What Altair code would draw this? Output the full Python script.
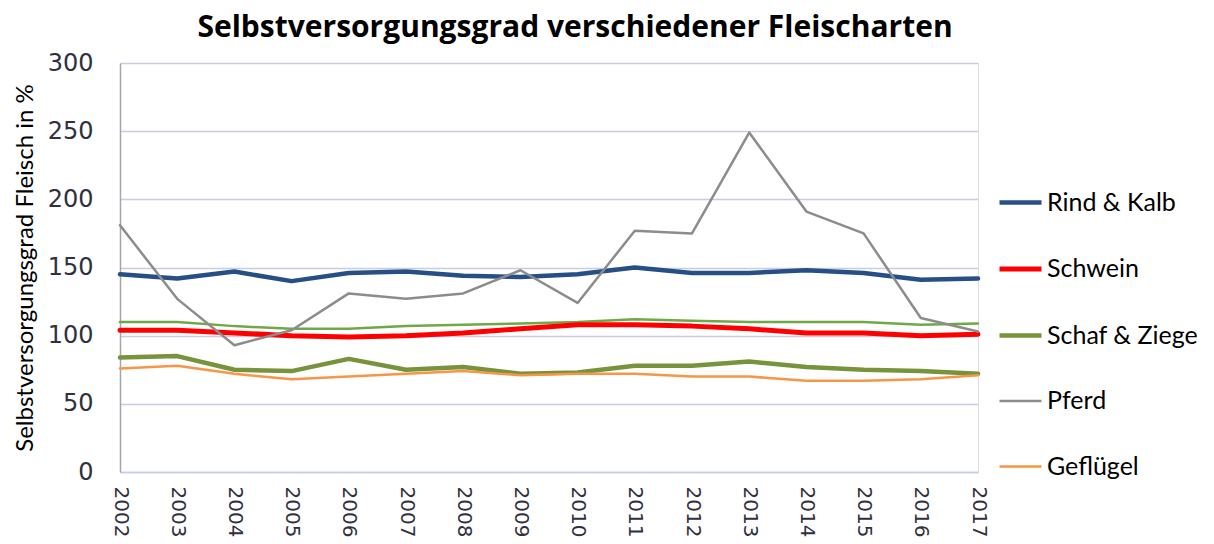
import altair as alt
import pandas as pd

years = ["2002", "2003", "2004", "2005", "2006", "2007", "2008", "2009",
         "2010", "2011", "2012", "2013", "2014", "2015", "2016", "2017"]

rind_kalb = [145, 142, 147, 140, 146, 147, 144, 143, 145, 150, 146, 146, 148, 146, 141, 142]
schwein = [104, 104, 102, 100, 99, 100, 102, 105, 108, 108, 107, 105, 102, 102, 100, 101]
schaf_ziege = [84, 85, 75, 74, 83, 75, 77, 72, 73, 78, 78, 81, 77, 75, 74, 72]
pferd = [181, 127, 93, 104, 131, 127, 131, 148, 124, 177, 175, 249, 191, 175, 113, 103]
gefluegel = [76, 78, 72, 68, 70, 72, 74, 71, 72, 72, 70, 70, 67, 67, 68, 71]
# unlabelled thin green line (not in legend)
unbenannt = [110, 110, 107, 105, 105, 107, 108, 109, 110, 112, 111, 110, 110, 110, 108, 109]

series_names = ["Rind & Kalb", "Schwein", "Schaf & Ziege", "Pferd", "Geflügel"]
series_values = [rind_kalb, schwein, schaf_ziege, pferd, gefluegel]
series_colors = ["#264F86", "#FF0000", "#77933C", "#8C8C8C", "#F79646"]
series_widths = [4.5, 5, 4.5, 2.5, 2.5]

rows = []
for name, vals in zip(series_names, series_values):
    for yr, v in zip(years, vals):
        rows.append({"Jahr": yr, "Wert": v, "Art": name})
df = pd.DataFrame(rows)
extra_df = pd.DataFrame({"Jahr": years, "Wert": unbenannt})

x_enc = alt.X(
    "Jahr:O",
    sort=years,
    scale=alt.Scale(type="point", padding=0),
    axis=alt.Axis(
        title=None, labelAngle=90, labelAlign="left", labelBaseline="middle",
        labelFont="DejaVu Sans", labelFontSize=20, labelColor="#303040",
        labelPadding=14, ticks=False, domainColor="#C8CCE4", domainWidth=1.5,
        grid=False,
    ),
)
y_enc = alt.Y(
    "Wert:Q",
    scale=alt.Scale(domain=[0, 300]),
    axis=alt.Axis(
        values=[0, 50, 100, 150, 200, 250, 300],
        title="Selbstversorgungsgrad Fleisch in %",
        titleFont="Lato", titleFontSize=24, titleFontWeight="normal",
        titleColor="#000000", titlePadding=10,
        labelFont="DejaVu Sans", labelFontSize=24, labelColor="#303040",
        labelPadding=27, ticks=False, domainColor="#A6A6A6", domainWidth=1.5,
        gridColor="#C8CCE4", gridWidth=1.5,
    ),
)

legend = alt.Legend(
    title=None, orient="none", legendX=877, legendY=116,
    symbolType="stroke", symbolSize=1764, labelFont="Lato", labelFontSize=25,
    labelColor="#000000", labelOffset=3, rowPadding=29.5,
)

extra = alt.Chart(extra_df).mark_line(
    color="#6FA846", strokeWidth=2.5, strokeJoin="round", strokeCap="round"
).encode(x=x_enc, y=y_enc)

main = alt.Chart(df).mark_line(strokeJoin="round", strokeCap="round").encode(
    x=x_enc,
    y=y_enc,
    color=alt.Color("Art:N", sort=series_names,
                    scale=alt.Scale(domain=series_names, range=series_colors),
                    legend=legend),
    strokeWidth=alt.StrokeWidth("Art:N", sort=series_names,
                                scale=alt.Scale(type="ordinal", domain=series_names, range=series_widths),
                                legend=legend),
)

chart = alt.layer(extra, main).properties(
    width=858,
    height=409,
    autosize="none",
    padding={"left": 112, "top": 55, "right": 228, "bottom": 72},
    title=alt.TitleParams(
        "Selbstversorgungsgrad verschiedener Fleischarten",
        font="Open Sans", fontSize=30, fontWeight="bold", color="#000000",
        anchor="middle", dx=26, offset=8,
    ),
).configure_view(stroke=None).configure(background="white")

chart.save("out.html", embed_options={"renderer": "svg", "actions": False})
